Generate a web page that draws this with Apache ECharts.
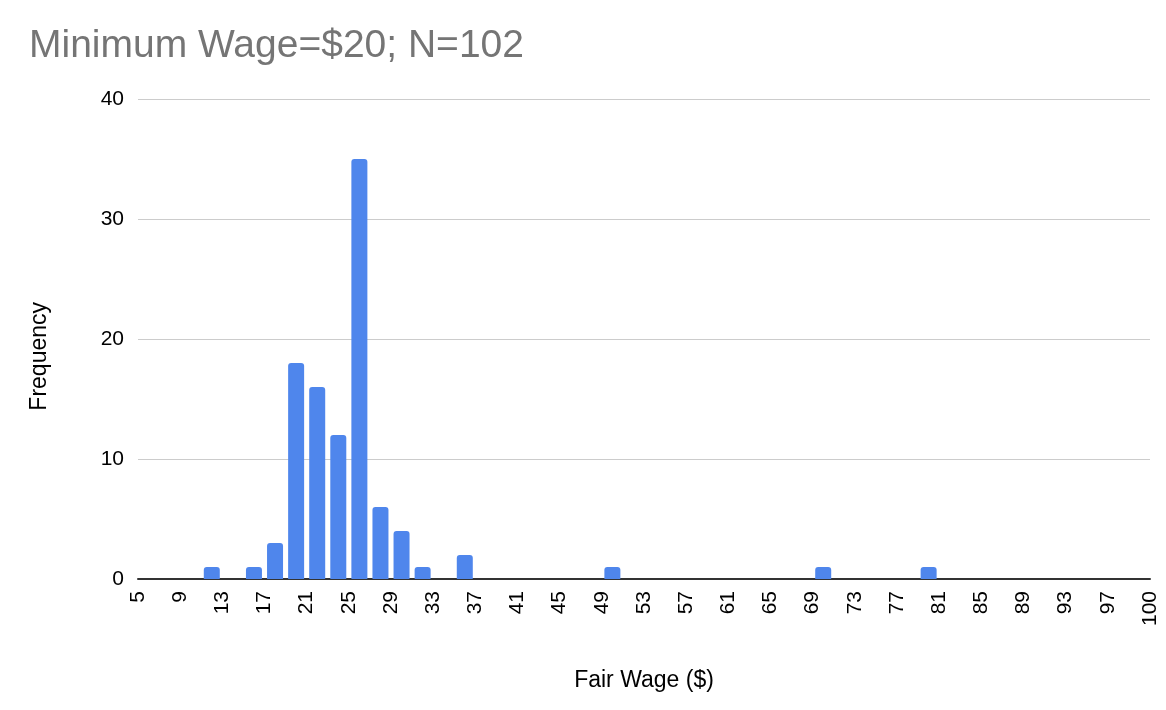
<!DOCTYPE html>
<html>
<head>
<meta charset="utf-8">
<script src="https://cdn.jsdelivr.net/npm/echarts@6/dist/echarts.min.js"></script>
<style>
html,body{margin:0;padding:0;background:#fff;}
#chart{width:1166px;height:710px;}
</style>
</head>
<body>
<div id="chart"></div>
<script>
// Bin edges (tick labels at every other edge)
var binEdges = [5,7,9,11,13,15,17,19,21,23,25,27,29,31,33,35,37,39,41,43,45,47,49,51,53,55,57,59,61,63,65,67,69,71,73,75,77,79,81,83,85,87,89,91,93,95,97,99,100];
// Frequency per bin [edge[i], edge[i+1])
var counts = [0,0,0,1,0,1,3,18,16,12,35,6,4,1,0,2,0,0,0,0,0,0,1,0,0,0,0,0,0,0,0,0,1,0,0,0,0,1,0,0,0,0,0,0,0,0,0,0];
var yTicks = [0,10,20,30,40];
var titleText = 'Minimum Wage=$20; N=102';
var xName = 'Fair Wage ($)';
var yName = 'Frequency';

var font = 'Liberation Sans, Arial, Helvetica, sans-serif';
var barData = counts.map(function(c, i){ return [i + 0.5, c]; });

var chart = echarts.init(document.getElementById('chart'), null, {renderer:'canvas'});
chart.setOption({
  animation:false,
  backgroundColor:'#ffffff',
  title:{
    text:titleText,
    left:24, top:22,
    textStyle:{fontFamily:font, fontSize:39, fontWeight:'normal', color:'#757575'}
  },
  grid:{left:138, right:16, top:99, bottom:131, containLabel:false},
  xAxis:{
    type:'value', min:0, max:binEdges.length-1, interval:2,
    axisLine:{show:true, onZero:false, lineStyle:{color:'#333333', width:2}},
    axisTick:{show:false},
    splitLine:{show:false},
    axisLabel:{
      rotate:90, margin:12, fontFamily:font, fontSize:21, color:'#000000',
      showMaxLabel:true, showMinLabel:true,
      formatter:function(v){ return String(binEdges[Math.round(v)]); }
    },
    name:xName, nameLocation:'middle', nameGap:90,
    nameTextStyle:{fontFamily:font, fontSize:23, color:'#000000'}
  },
  yAxis:{
    type:'value', min:yTicks[0], max:yTicks[yTicks.length-1], interval:10,
    axisLine:{show:false}, axisTick:{show:false},
    splitLine:{show:true, lineStyle:{color:'#cccccc', width:1}},
    axisLabel:{margin:14, fontFamily:font, fontSize:21, color:'#000000'}
  },
  graphic:[{
    type:'text', left:28, top:302, rotation:Math.PI/2,
    style:{text:yName, fontFamily:font, fontSize:23, fill:'#000000'}
  }],
  series:[{
    type:'bar', data:barData, barWidth:16,
    itemStyle:{color:'#4f86ec', borderRadius:[3,3,0,0]}
  }]
});
</script>
</body>
</html>
